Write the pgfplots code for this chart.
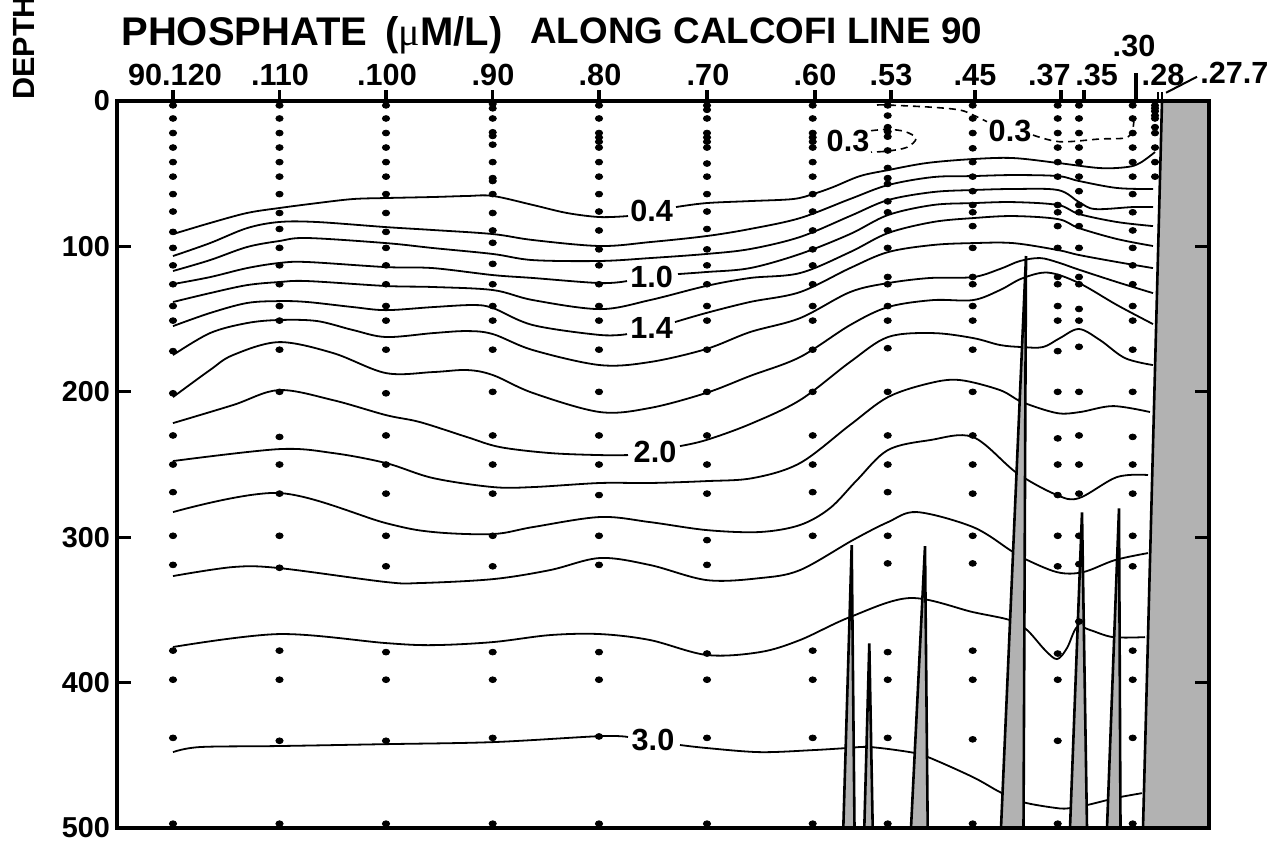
\documentclass[border=0pt]{standalone}
\usepackage{fontspec}
\setmainfont{Liberation Sans}
\newfontfamily\symfont{Liberation Serif}
\usepackage{pgfplots}
\pgfplotsset{compat=1.18}
\tikzset{
  cline/.style={black, line width=0.9pt, smooth, tension=0.55},
  dline/.style={black, line width=0.8pt, smooth, tension=0.55, dash pattern=on 3.5pt off 2.5pt},
  rock/.style={fill=black!30, draw=black, line width=1.3pt, line join=miter},
  stn/.style={only marks, mark=*, mark size=1.45pt, black, mark options={draw=black, fill=black, xscale=1.25}},
}
\newcommand{\lab}{\bfseries\fontsize{15.3}{18}\selectfont}
\begin{document}
\begin{tikzpicture}
\begin{axis}[
  scale only axis, width=546pt, height=363.5pt,
  xmin=117, xmax=1209, ymin=0, ymax=500, y dir=reverse,
  clip=false, axis on top,
  axis line style={line width=1.8pt, black},
  xtick=\empty,
  ytick={0,100,200,300,400,500},
  ytick pos=both, yticklabel pos=left,
  tick align=inside, major tick length=7pt,
  tick style={black, line width=1.6pt},
  yticklabel style={font=\bfseries\fontsize{14.4}{16}\selectfont},
  /pgf/number format/assume math mode=true,
]
% ---- contours (solid) ----
% 0.4
\addplot[cline] coordinates {(173,91.5)(210,83.9)(247,77.0)(279,73.6)(317,70.2)(353,67.4)(386,66.7)(433,66.0)(467,65.3)(493,65.3)(533,71.5)(567,77.0)(600,79.8)(628,79.1)};
\addplot[cline] coordinates {(676,72.9)(706,70.2)(750,68.8)(793,67.4)(813,64.0)(833,59.2)(860,51.6)(888,47.5)(927,42.6)(973,39.9)(1013,39.2)(1058,42.6)(1100,46.1)(1127,45.4)(1140,42.6)(1155,35.1)};
% 0.6
\addplot[cline] coordinates {(173,106.6)(210,97.7)(247,87.4)(279,83.2)(317,83.2)(386,86.7)(433,88.7)(493,91.5)(533,95.6)(600,99.7)(650,97.0)(706,92.9)(750,88.0)(800,80.5)(850,67.4)(888,57.8)(933,52.3)(973,51.6)(1013,50.9)(1058,51.6)(1079,55.0)(1117,59.8)(1153,60.5)};
% 0.8
\addplot[cline] coordinates {(173,116.9)(210,109.4)(247,100.4)(279,96.3)(307,94.2)(386,97.7)(433,101.1)(493,105.2)(533,109.4)(600,110.0)(650,108.0)(706,105.2)(750,101.8)(800,93.5)(850,79.1)(888,68.1)(933,62.6)(973,61.2)(1013,60.5)(1058,61.2)(1079,69.5)(1095,74.3)(1133,72.9)(1153,72.9)};
% 1.0
\addplot[cline] coordinates {(173,125.9)(210,121.1)(247,114.9)(279,111.4)(307,110.7)(386,114.2)(433,114.9)(493,119.7)(533,121.7)(600,125.2)(627,123.8)};
\addplot[cline] coordinates {(678,119.0)(706,117.6)(750,114.9)(800,105.2)(850,91.5)(888,78.4)(933,71.5)(973,70.2)(1013,69.5)(1058,71.5)(1079,77.7)(1117,83.2)(1153,86.0)};
% 1.2
\addplot[cline] coordinates {(173,138.2)(210,132.1)(247,126.6)(279,124.5)(307,123.8)(386,127.2)(433,127.9)(493,130.0)(533,136.9)(600,143.1)(650,136.9)(706,127.2)(750,121.7)(800,118.3)(850,103.9)(888,90.8)(933,83.2)(973,80.5)(1013,79.1)(1058,81.2)(1079,87.4)(1117,94.9)(1153,99.7)};
% 1.4
\addplot[cline] coordinates {(173,154.8)(210,145.8)(247,138.9)(279,137.6)(307,138.2)(353,141.7)(386,143.8)(433,141.7)(473,140.3)(493,142.4)(533,154.1)(600,160.9)(627,160.3)};
\addplot[cline] coordinates {(675,152.0)(706,145.8)(750,138.2)(800,131.4)(850,114.9)(888,103.9)(933,99.0)(973,97.7)(1013,97.7)(1058,102.5)(1079,105.9)(1117,110.7)(1153,114.9)};
% 1.6
\addplot[cline] coordinates {(173,174.7)(210,159.6)(247,152.7)(279,150.6)(317,151.3)(353,157.5)(386,162.3)(433,159.6)(467,158.2)(493,160.3)(533,171.3)(600,181.6)(650,179.5)(706,170.6)(750,158.9)(800,149.3)(850,131.4)(888,125.2)(930,121.7)(973,121.1)(1000,115.5)(1020,110.0)(1040,108.0)(1058,111.0)(1079,116.0)(1117,124.5)(1153,132.1)};
% 1.8
\addplot[cline] coordinates {(173,203.6)(210,185.0)(233,174.7)(279,165.8)(333,173.3)(386,187.1)(433,186.4)(467,185.0)(493,188.5)(533,200.8)(600,213.9)(650,211.1)(706,200.8)(750,189.1)(800,176.1)(850,154.1)(888,141.7)(933,136.9)(973,136.9)(1000,130.0)(1022,122.0)(1048,118.0)(1079,125.2)(1117,140.3)(1153,153.4)};
% 2.0
\addplot[cline] coordinates {(173,221.5)(233,209.1)(279,198.8)(333,205.7)(386,216.0)(420,220.8)(467,231.1)(500,238.0)(550,242.1)(600,243.5)(628,243.5)};
\addplot[cline] coordinates {(680,237.3)(706,233.2)(750,222.2)(800,205.7)(850,179.5)(888,162.3)(933,159.6)(973,163.0)(1000,167.8)(1022,169.2)(1043,169.2)(1060,163.0)(1079,156.8)(1100,164.4)(1125,176.8)(1153,181.6)};
% 2.2
\addplot[cline] coordinates {(173,247.6)(279,239.4)(333,242.1)(386,249.0)(433,259.3)(493,265.5)(533,265.5)(600,262.7)(650,262.7)(706,261.4)(753,259.3)(800,249.0)(850,222.8)(888,203.6)(930,194.0)(960,191.9)(1000,198.8)(1022,207.0)(1057,214.6)(1080,213.9)(1113,209.8)(1150,213.9)};
% 2.4
\addplot[cline] coordinates {(173,282.7)(279,269.6)(386,290.3)(433,296.4)(493,297.8)(533,293.0)(600,286.1)(650,289.6)(707,295.1)(760,296.4)(800,291.6)(830,280.0)(857,260.7)(888,240.0)(930,233.2)(973,231.1)(1017,255.9)(1057,271.0)(1079,273.1)(1117,258.6)(1148,257.2)};
% 2.6
\addplot[cline] coordinates {(173,326.7)(233,320.5)(279,321.2)(386,330.8)(420,331.5)(493,328.8)(550,322.6)(600,314.3)(650,319.1)(707,329.5)(760,328.1)(800,322.6)(853,301.9)(888,289.6)(917,282.7)(973,293.0)(1010,308.8)(1023,314.3)(1057,324.0)(1083,324.0)(1115,315.7)(1148,310.9)};
% 2.8
\addplot[cline] coordinates {(173,375.5)(279,366.6)(386,372.8)(433,374.2)(493,372.1)(550,367.3)(600,366.6)(650,370.7)(707,381.0)(760,379.0)(800,370.7)(850,354.9)(910,341.8)(973,351.5)(1010,357.0)(1027,363.8)(1045,377.6)(1057,383.8)(1067,376.2)(1077,361.8)(1090,363.8)(1113,368.7)(1145,368.7)};
% 3.0
\addplot[cline] coordinates {(173,447.8)(200,444.3)(279,443.6)(386,442.3)(493,440.9)(600,436.8)(628,437.4)};
\addplot[cline] coordinates {(680,442.9)(707,445.0)(760,447.8)(813,446.4)(847,445.0)(870,444.3)(910,447.8)(928,451.2)(973,465.0)(1000,475.3)(1023,482.2)(1057,486.3)(1070,486.3)(1087,484.2)(1107,480.8)(1120,478.7)(1142,476.0)};
% ---- 0.3 dashed ----
\addplot[dline] coordinates {(871,20.4)(888,19.5)(905,21.0)(916,25.7)(907,31.8)(888,34.4)(871,35.1)};
\addplot[dline] coordinates {(877,2.75)(888,2.75)(933,4.3)(960,6.2)(973,9.6)(987,14.2)};
\addplot[dline] coordinates {(1033,23.4)(1060,28.0)(1100,26.1)(1125,25.4)(1132,21.0)(1134,13.0)};
% ---- bathymetry ----
\addplot[fill=black!30, draw=none] coordinates {(1162,0)(1209,0)(1209,500)(1143,500)} -- cycle;
\addplot[black, line width=1.3pt] coordinates {(1162,0)(1143,500)};
\addplot[rock] coordinates {(843.3,500)(851.7,305.4)(854.5,500)};
\addplot[rock] coordinates {(864.3,500)(869.3,373.0)(872.7,500)};
\addplot[rock] coordinates {(911,500)(925,306.1)(927.7,500)};
\addplot[rock] coordinates {(1001,500)(1026,106.6)(1023.5,500)};
\addplot[rock] coordinates {(1070,500)(1082,282.9)(1087,500)};
\addplot[rock] coordinates {(1107,500)(1119,280.1)(1120.5,500)};
% ---- sample depths at stations ----
\addplot[stn] coordinates {(173,3)(173,12)(173,22)(173,32)(173,42)(173,52)(173,64)(173,76)(173,90)(173,101)(173,113)(173,126)(173,141)(173,151)(173,172)(173,201)(173,230)(173,250)(173,269)(173,299)(173,319)(173,378)(173,398)(173,438)(173,497)};
\addplot[stn] coordinates {(279.5,3)(279.5,12)(279.5,22)(279.5,32)(279.5,42)(279.5,52)(279.5,64)(279.5,77)(279.5,88)(279.5,101)(279.5,113)(279.5,126)(279.5,141)(279.5,151)(279.5,171)(279.5,200)(279.5,231)(279.5,250)(279.5,270)(279.5,299)(279.5,321)(279.5,378)(279.5,398)(279.5,440)(279.5,497)};
\addplot[stn] coordinates {(386,3)(386,12)(386,22)(386,32)(386,42)(386,52)(386,64)(386,77)(386,90)(386,101)(386,113)(386,126)(386,141)(386,151)(386,171)(386,201)(386,230)(386,250)(386,270)(386,299)(386,320)(386,379)(386,398)(386,440)(386,497)};
\addplot[stn] coordinates {(492.7,2)(492.7,5)(492.7,12)(492.7,21.5)(492.7,24)(492.7,30)(492.7,42)(492.7,53)(492.7,55)(492.7,64)(492.7,77)(492.7,89)(492.7,97.5)(492.7,112)(492.7,126)(492.7,141)(492.7,151)(492.7,171)(492.7,200)(492.7,230)(492.7,250)(492.7,270)(492.7,299)(492.7,320)(492.7,379)(492.7,398)(492.7,438)(492.7,497)};
\addplot[stn] coordinates {(599,3)(599,12)(599,22)(599,25)(599,28)(599,32)(599,42)(599,52)(599,64)(599,76)(599,89)(599,102)(599,113)(599,126)(599,141)(599,151)(599,171)(599,200)(599,230)(599,250)(599,271)(599,299)(599,319)(599,379)(599,398)(599,437)(599,497)};
\addplot[stn] coordinates {(707,3)(707,6)(707,12)(707,22)(707,25)(707,28)(707,32)(707,43)(707,52)(707,64)(707,76)(707,88)(707,102)(707,113)(707,126)(707,141)(707,151)(707,171)(707,200)(707,230)(707,250)(707,270)(707,302)(707,319)(707,380)(707,398)(707,438)(707,497)};
\addplot[stn] coordinates {(812.7,3)(812.7,12)(812.7,22)(812.7,25)(812.7,28)(812.7,32)(812.7,42)(812.7,52)(812.7,64)(812.7,76)(812.7,89)(812.7,102)(812.7,113)(812.7,126)(812.7,141)(812.7,151)(812.7,171)(812.7,200)(812.7,230)(812.7,250)(812.7,269)(812.7,299)(812.7,378)(812.7,398)(812.7,438)(812.7,497)};
\addplot[stn] coordinates {(887.7,3)(887.7,10)(887.7,18)(887.7,21)(887.7,24.5)(887.7,34)(887.7,46)(887.7,53)(887.7,57)(887.7,69)(887.7,76.5)(887.7,89)(887.7,101)(887.7,121)(887.7,126)(887.7,141)(887.7,151)(887.7,170)(887.7,200)(887.7,230)(887.7,250)(887.7,269)(887.7,299)(887.7,318)(887.7,379)(887.7,398)(887.7,438)(887.7,497)};
\addplot[stn] coordinates {(972.7,3)(972.7,12)(972.7,22)(972.7,32.5)(972.7,42)(972.7,52)(972.7,62)(972.7,71.5)(972.7,76.5)(972.7,86)(972.7,101)(972.7,121)(972.7,126)(972.7,141)(972.7,151)(972.7,171)(972.7,200)(972.7,230)(972.7,250)(972.7,270)(972.7,299)(972.7,318)(972.7,378)(972.7,398)(972.7,439)(972.7,497)};
\addplot[stn] coordinates {(1057.7,3)(1057.7,12)(1057.7,22)(1057.7,32)(1057.7,42)(1057.7,52)(1057.7,71.5)(1057.7,76.5)(1057.7,86)(1057.7,101)(1057.7,121)(1057.7,126)(1057.7,141)(1057.7,151)(1057.7,172)(1057.7,200)(1057.7,232)(1057.7,250)(1057.7,271)(1057.7,299)(1057.7,320)(1057.7,380)(1057.7,398)(1057.7,440)(1057.7,497)};
\addplot[stn] coordinates {(1079,3)(1079,12)(1079,22)(1079,32)(1079,42)(1079,52)(1079,62)(1079,71.5)(1079,76.5)(1079,86)(1079,101)(1079,121)(1079,126)(1079,143)(1079,151)(1079,169)(1079,200)(1079,230)(1079,250)(1079,270)(1079,299)(1079,318.5)(1079,358)};
\addplot[stn] coordinates {(1132.7,3)(1132.7,12)(1132.7,22)(1132.7,32)(1132.7,42)(1132.7,52)(1132.7,64)(1132.7,76.5)(1132.7,89)(1132.7,101)(1132.7,113)(1132.7,126)(1132.7,141)(1132.7,151)(1132.7,171)(1132.7,200)(1132.7,231)(1132.7,250)(1132.7,270)(1132.7,299)(1132.7,320)(1132.7,378)(1132.7,398)(1132.7,438)(1132.7,497)};
\addplot[stn] coordinates {(1155,3)(1155,5)(1155,7)(1155,10)(1155,12)(1155,18)(1155,22)(1155,32)(1155,42)(1155,52)};
% ---- contour labels ----
\node[font=\lab, inner sep=0] at (axis cs:651.7,75.5) {0.4};
\node[font=\lab, inner sep=0] at (axis cs:651.7,120.8) {1.0};
\node[font=\lab, inner sep=0] at (axis cs:651.7,155.8) {1.4};
\node[font=\lab, inner sep=0] at (axis cs:655,241.2) {2.0};
\node[font=\lab, inner sep=0] at (axis cs:653,439.5) {3.0};
\node[font=\lab, inner sep=0] at (axis cs:848,27.5) {0.3};
\node[font=\lab, inner sep=0] at (axis cs:1010,20.3) {0.3};
% ---- station ticks and labels ----
\foreach \sx in {173,279.5,386,492.7,599,707,815,891,975,1061,1084}{
  \edef\temp{\noexpand\draw[line width=1.6pt] (axis cs:\sx,0) -- (axis cs:\sx,-7.6);}\temp
}
\draw[line width=1.6pt] (axis cs:1136,0) -- (axis cs:1136,-19.3);
\draw[line width=1pt] (axis cs:1158,0) -- (axis cs:1158,-6);
\draw[line width=1pt] (axis cs:1162,0) -- (axis cs:1162,-6);
\draw[line width=1pt] (axis cs:1166,-5.7) -- (axis cs:1197,-16.7);
\node[anchor=base, font=\lab, inner sep=0] at (axis cs:175,-11) {90.120};
\node[anchor=base, font=\lab, inner sep=0] at (axis cs:280,-11) {.110};
\node[anchor=base, font=\lab, inner sep=0] at (axis cs:387,-11) {.100};
\node[anchor=base, font=\lab, inner sep=0] at (axis cs:493,-11) {.90};
\node[anchor=base, font=\lab, inner sep=0] at (axis cs:600,-11) {.80};
\node[anchor=base, font=\lab, inner sep=0] at (axis cs:708,-11) {.70};
\node[anchor=base, font=\lab, inner sep=0] at (axis cs:815,-11) {.60};
\node[anchor=base, font=\lab, inner sep=0] at (axis cs:891,-11) {.53};
\node[anchor=base, font=\lab, inner sep=0] at (axis cs:975,-11) {.45};
\node[anchor=base east, font=\lab, inner sep=0] at (axis cs:1071,-11) {.37};
\node[anchor=base west, font=\lab, inner sep=0] at (axis cs:1075,-11) {.35};
\node[anchor=base, font=\lab, inner sep=0] at (axis cs:1134,-30.3) {.30};
\node[anchor=base, font=\lab, inner sep=0] at (axis cs:1163,-11) {.28};
\node[anchor=base west, font=\lab, inner sep=0] at (axis cs:1200,-12.4) {.27.7};
% ---- titles ----
\node[anchor=base west, inner sep=0, font=\bfseries\fontsize{20}{24}\selectfont] at (axis cs:121,-38.5) {PHOSPHATE\hspace{0.45em}({\symfont\mdseries μ}M/L)};
\node[anchor=base west, inner sep=0, font=\bfseries\fontsize{18.4}{22}\selectfont] at (axis cs:530,-39.9) {ALONG CALCOFI LINE 90};
\node[anchor=base west, rotate=90, inner sep=0, font=\lab] at (axis cs:35,-0.7) {DEPTH};
\coordinate (ll) at (axis cs:0,512.4);
\coordinate (ur) at (axis cs:1274,-69.5);
\end{axis}
\pgfresetboundingbox
\path (ll) rectangle (ur);
\end{tikzpicture}
\end{document}
